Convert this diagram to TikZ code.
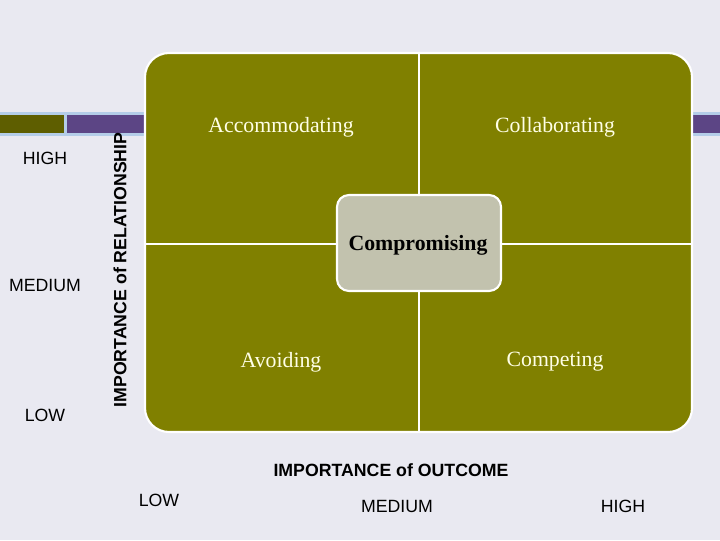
\documentclass[tikz,border=0pt]{standalone}
\usepackage{fontspec}
\setmainfont{Liberation Serif}
\setsansfont{Liberation Sans}
\usetikzlibrary{positioning}
\definecolor{slide}{HTML}{E9E9F1}
\definecolor{olive}{HTML}{808000}
\definecolor{olivedark}{HTML}{5E5E00}
\definecolor{band}{HTML}{5C4585}
\definecolor{bandedge}{HTML}{B4CDE8}
\definecolor{middle}{HTML}{C2C2AE}
\definecolor{cream}{HTML}{FFFFE6}

\begin{document}
\begin{tikzpicture}[x=0.025cm,y=-0.025cm,
    style/.style={font=\fontsize{15.5}{18}\selectfont,text=cream},
    axis/.style={font=\sffamily\fontsize{12.6}{15}\selectfont},
    axistitle/.style={font=\sffamily\bfseries\fontsize{12.6}{15}\selectfont}]
  % slide background
  \fill[slide] (0,0) rectangle (720,540);
  \useasboundingbox (0,0) rectangle (720,540);

  % title band behind the grid
  \fill[bandedge] (0,112) rectangle (720,136);
  \fill[olivedark] (0,115) rectangle (64,133);
  \fill[band] (67,115) rectangle (720,133);

  % the grid
  \draw[white,line width=1.5pt,fill=olive,rounded corners=0.6cm] (145,53) rectangle (692,432);
  \draw[white,line width=1.5pt] (419,53) -- (419,432);
  \draw[white,line width=1.5pt] (145,244) -- (692,244);

  % middle box
  \node[draw=white,line width=1.5pt,fill=middle,rounded corners=0.3cm,
        minimum width=4.1cm,minimum height=2.4cm] (middlebox) at (419,243) {};
  \node[font=\bfseries\fontsize{15.5}{18}\selectfont] (compromising) at (418,245) {Compromising};

  % the four styles
  \node[style] (accommodating) at (281,127) {Accommodating};
  \node[style] (collaborating) at (555,127) {Collaborating};
  \node[style] (avoiding) at (281,362) {Avoiding};
  \node[style] (competing) at (555,362) {Competing};

  % relationship axis
  \node[axistitle,rotate=90] (relationship) at (120,270) {IMPORTANCE of RELATIONSHIP};
  \foreach \y/\lab in {158/HIGH, 285/MEDIUM, 415/LOW}
    \node[axis] (rel\lab) at (45,\y) {\lab};

  % outcome axis
  \node[axistitle] (outcome) at (391,470) {IMPORTANCE of OUTCOME};
  \foreach \x/\y/\lab in {159/500/LOW, 397/506/MEDIUM, 623/506/HIGH}
    \node[axis] (out\lab) at (\x,\y) {\lab};
\end{tikzpicture}
\end{document}
